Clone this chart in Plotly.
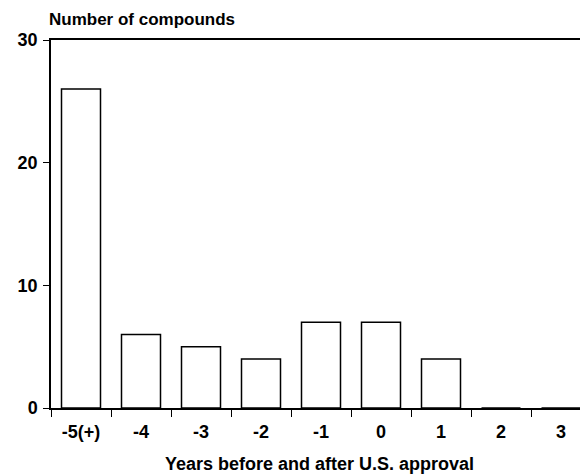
import plotly.graph_objects as go

categories = ["-5(+)", "-4", "-3", "-2", "-1", "0", "1", "2", "3"]
counts = [26, 6, 5, 4, 7, 7, 4, 0, 0]
y_ticks = [0, 10, 20, 30]

FONT = "Liberation Sans, Arial, sans-serif"

fig = go.Figure(go.Bar(
    x=categories, y=counts,
    marker=dict(color="white", line=dict(color="black", width=1.5)),
    width=0.65,
))

# page body has an 8px default margin; size the figure to fill the 588x474 window
fig.update_layout(
    width=580, height=466,
    margin=dict(l=43, r=0, t=32, b=66),
    paper_bgcolor="white", plot_bgcolor="white",
    showlegend=False,
    font=dict(family=FONT, color="black"),
    xaxis=dict(
        type="category", range=[-0.5, 8.45], automargin=False,
        showline=True, linecolor="black", linewidth=1.5, mirror=True,
        ticks="outside", tickson="boundaries", ticklen=7, tickcolor="black", tickwidth=1,
        ticklabelstandoff=7,
        tickfont=dict(size=18, family=FONT, weight="bold"),
        showgrid=False,
        title=dict(text="<b>Years before and after U.S. approval</b>", font=dict(size=18), standoff=26),
    ),
    yaxis=dict(
        range=[0, 30], tickvals=y_ticks, automargin=False,
        showline=True, linecolor="black", linewidth=1.5,
        ticks="outside", ticklen=6, tickcolor="black",
        ticklabelstandoff=2,
        tickfont=dict(size=18, family=FONT, weight="bold"),
        showgrid=False, zeroline=False,
    ),
    annotations=[dict(
        text="<b>Number of compounds</b>", x=0, xref="paper", xanchor="left",
        y=1, yref="paper", yanchor="bottom", yshift=9, xshift=-4, showarrow=False,
        font=dict(size=17, family=FONT),
    )],
)

fig.write_html("out.html")
